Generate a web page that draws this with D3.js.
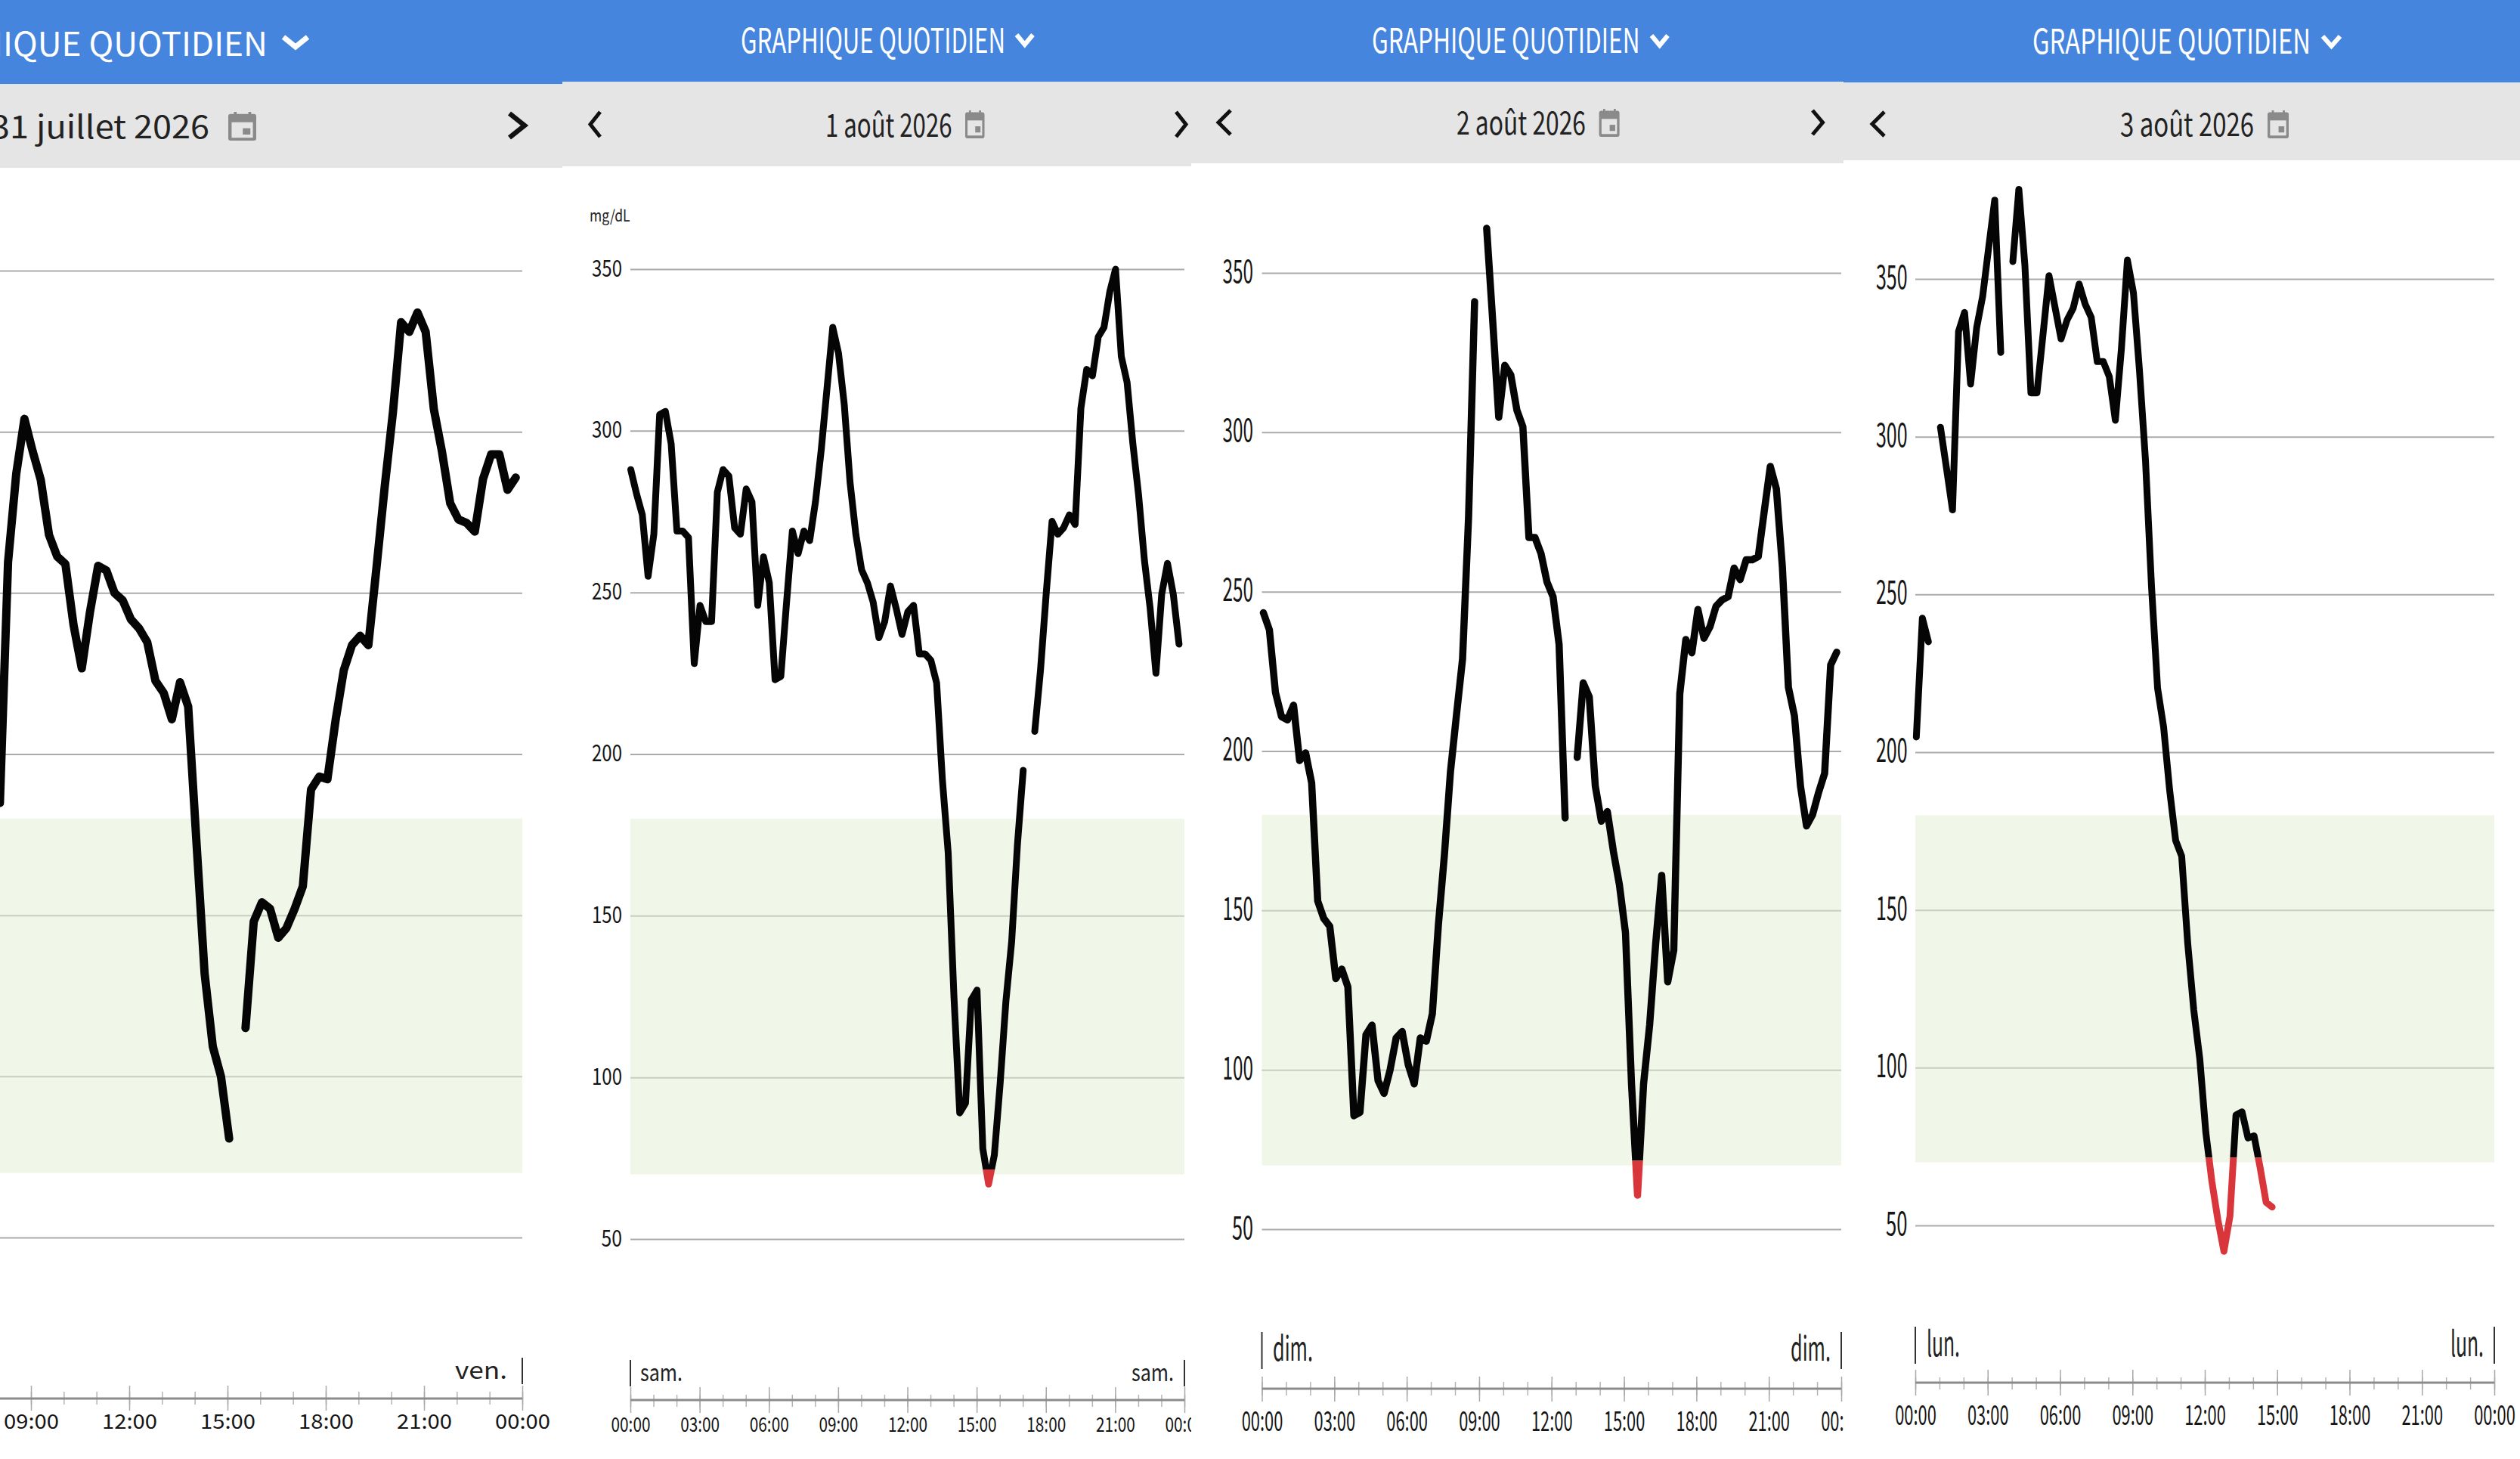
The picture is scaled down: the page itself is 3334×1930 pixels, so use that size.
<!DOCTYPE html>
<html><head><meta charset="utf-8">
<script src="https://cdn.jsdelivr.net/npm/d3@7"></script>
<style>html,body{margin:0;padding:0;background:#fff;overflow:hidden}svg{display:block}
text{font-family:"Noto Sans CJK JP","Noto Sans",sans-serif}</style></head><body>
<script>
// ---------- data ----------
const titleText = "GRAPHIQUE QUOTIDIEN";
const dateLabels = ["31 juillet 2026","1 août 2026","2 août 2026","3 août 2026"];
const dayLabels = ["ven.","sam.","dim.","lun."];
const yTicks = [50,100,150,200,250,300,350];
const xTickHours = [0,3,6,9,12,15,18,21,24];
const xTickLabels = ["00:00","03:00","06:00","09:00","12:00","15:00","18:00","21:00","00:00"];
const unitLabel = "mg/dL";
const rangeLow = 70, rangeHigh = 180, lowThreshold = 71.5;
// glucose readings, one per 15 minutes
const glucoseStep1 = 32; // first step visible in the cropped first day
const glucose1 = [184.8,259.6,287,304,294,285,268,261.3,259,240,226.6,244,258.4,257,250,247.7,241.8,239,234.7,222.7,219,210.8,222.3,214.7,173,132,109.3,100,80.7,null,115,148,154,152,143,146,152,159,189,193,192.2,210.5,226,233.8,236.7,233.8,258,283,306,334,331,337,331,307,293.7,277.8,272.8,271.7,269,285.3,293,293,282,285.8];
const glucose2 = [288,280.5,274,255,268,305,306,296,269,269,267,228,246,241,241,281,288,286,270,268,282,278,246,261,253,223,224,247,269,262,269,266,278,294,313,332,324,308,284,268,257,253,247,236,241,252,245,237,244,246,231,231,229,222,192,169.5,125,89,92,124,127,78,67,76,98,123.5,142,172,195,null,207,226,250,272,268,270,274,271,307,319,317,329,332,343,350,323,315,296,280,260,245,225,249.5,259,249.5,234];
const glucose3 = [243.4,238,218.4,210.8,209.8,214.4,197,199.4,190,153,147.5,145,128.6,131.6,126,85.6,86.6,111,114,96.6,92.6,100,110,112,101.6,95.6,110,109,117.6,145.5,167.5,193.5,211.4,228.8,273.3,341,null,364,335,304.7,321,318,307,301.7,267,267,262,253,248.4,233.4,179,null,198,221.4,217,189,178,181,168.5,158,143,95.6,60.7,95.6,114,139.5,161,127.6,137.5,218,235,230.8,244.4,235.4,239,245.4,247.4,248.4,257.4,253.8,260,260,261,275.3,289.3,282.3,257.7,220,211,189,176.5,180,187,193,227,231];
const glucose4 = [204.8,242.5,235,null,303,290,276.8,333.4,339.4,316.7,334.5,344.5,360,375,326.7,null,355.5,378.4,354.4,313.9,313.9,332.3,351,341,331,337,340.7,348.4,342,337.8,323.8,323.8,319,305.2,327.8,356,345.6,321,292.4,252.4,220.3,208,188,172,167,139.4,118.3,102.8,79.5,64,51.8,41.8,52.9,85,86,77.7,78.4,68.4,57.3,55.8];
const glucoseSeries = [glucose1,glucose2,glucose3,glucose4];
const glucoseFirstStep = [glucoseStep1,0,0,0];

// ---------- layout (pixels) ----------
const W=3334,H=1930;
const panels=[
 {x0:0,x1:744,blueB:111,grayB:222,
  title:[-141,495,73.5,43],chev:[374,408,47,65],date:[-12,289,183,42],icon:[302,148,339,186],
  prev:null,next:[673,696,149,183],
  plot:[-349,691],y350:358,y50:1637,yLab:null,
  axisY:1850,maj:[1833,1866],min:[1841,1858],xLab:[73,1890,27],
  day:[69,1824,32],dayL:null,dayR:[602,671],dayTick:[1796,1831],sw:11},
 {x0:744,x1:1576,blueB:108,grayB:220,
  title:[980,350,70,45],chev:[1344,1367.5,44,62],date:[1092,167.5,180.5,42],icon:[1277,146,1302.5,183],
  prev:[779,795,147,182],next:[1555,1571,147,182],
  plot:[834,1567],y350:356,y50:1639,yLab:[823,40,27.5,9,31],
  axisY:1852,maj:[1835,1869],min:[1845,1861],xLab:[52,1894,27],
  day:[56,1827,32],dayL:[847,903],dayR:[1497,1553],dayTick:[1799,1834],sw:9},
 {x0:1576,x1:2439,blueB:108,grayB:216,
  title:[1815,354.5,70,45],chev:[2184,2207.5,45,63],date:[1927,171,178,42],icon:[2115.6,144,2142.6,181],
  prev:[1610,1629,145,179],next:[2397,2413.5,145,179],
  plot:[1669.5,2436],y350:361,y50:1626,yLab:[1658,40.5,28,12,42],
  axisY:1837,maj:[1821,1854],min:[1828,1846],xLab:[54.6,1893,36],
  day:[53,1800,45],dayL:[1684,1737],dayR:[2369,2422],dayTick:[1762,1811],sw:9.5},
 {x0:2439,x1:3334,blueB:109,grayB:212,
  title:[2689,368,71,45],chev:[3072,3097,46,64],date:[2805,177,180,42],icon:[3000,146,3028,183],
  prev:[2475,2494,147,181],next:null,
  plot:[2534,3300],y350:369,y50:1621,yLab:[2523.5,41.6,28.5,12.5,43],
  axisY:1829,maj:[1812,1846],min:[1822,1838],xLab:[54.6,1885,37],
  day:[44,1794,46],dayL:[2549,2593],dayR:[3242,3286],dayTick:[1755,1804],sw:9}
];
const stepOffsetMin=[3,1,3.7,2.5];

const svg=d3.select("body").append("svg").attr("width",W).attr("height",H).attr("viewBox",`0 0 ${W} ${H}`);
const defs=svg.append("defs");
svg.append("rect").attr("width",W).attr("height",H).attr("fill","#fff");

function fitText(g,str,x,width,baseline,size,fill){
  return g.append("text").attr("x",x).attr("y",baseline).attr("font-size",size).attr("fill",fill)
    .attr("textLength",width).attr("lengthAdjust","spacingAndGlyphs").text(str);
}
function chevron(g,pts,stroke,sw){
  g.append("path").attr("d",d3.line()(pts)).attr("fill","none").attr("stroke",stroke).attr("stroke-width",sw).attr("stroke-linejoin","miter");
}
function calendar(g,[x0,y0,x1,y1]){
  const w=x1-x0,h=y1-y0,c="#8a8a8a";
  g.append("rect").attr("x",x0).attr("y",y0+h*.07).attr("width",w).attr("height",h*.93).attr("rx",3).attr("fill",c);
  g.append("rect").attr("x",x0+w*.12).attr("y",y0+h*.36).attr("width",w*.76).attr("height",h*.54).attr("fill","#e5e5e5");
  g.append("rect").attr("x",x0+w*.52).attr("y",y0+h*.57).attr("width",w*.27).attr("height",h*.22).attr("fill",c);
  [.2,.72].forEach(f=>g.append("rect").attr("x",x0+w*f).attr("y",y0).attr("width",w*.1).attr("height",h*.12).attr("fill",c));
}

panels.forEach((p,i)=>{
  const clipId="panel"+i;
  defs.append("clipPath").attr("id",clipId).append("rect").attr("x",p.x0).attr("y",0).attr("width",p.x1-p.x0).attr("height",H);
  const g=svg.append("g").attr("clip-path",`url(#${clipId})`);

  // scales
  const x=d3.scaleLinear().domain([0,24]).range(p.plot);
  const y=d3.scaleLinear().domain([50,350]).range([p.y50,p.y350]);
  const left=Math.max(p.plot[0],p.x0), right=p.plot[1];

  // header
  g.append("rect").attr("x",p.x0).attr("y",0).attr("width",p.x1-p.x0).attr("height",p.blueB).attr("fill","#4585de");
  g.append("rect").attr("x",p.x0).attr("y",p.blueB).attr("width",p.x1-p.x0).attr("height",p.grayB-p.blueB).attr("fill","#e5e5e5");
  g.append("rect").attr("x",p.x0).attr("y",p.blueB).attr("width",p.x1-p.x0).attr("height",1.5).attr("fill","#dbe5f2");
  fitText(g,titleText,p.title[0],p.title[1],p.title[2],p.title[3],"#fff");
  const [cx0,cx1,cy0,cy1]=p.chev;
  chevron(g,[[cx0+1,cy0+2],[(cx0+cx1)/2,cy1-3],[cx1-1,cy0+2]],"#fff",i===0?7:6);
  fitText(g,dateLabels[i],p.date[0],p.date[1],p.date[2],p.date[3],"#222");
  calendar(g,p.icon);
  if(p.prev){const [a,b,c,d]=p.prev;chevron(g,[[b-1,c+1],[a+2,(c+d)/2],[b-1,d-1]],"#111",5);}
  if(p.next){const [a,b,c,d]=p.next;chevron(g,[[a+1,c+1],[b-2,(c+d)/2],[a+1,d-1]],"#111",i===0?6.5:5);}

  // y grid and labels
  const yG=g.append("g").attr("transform",`translate(${p.plot[0]},0)`)
    .call(d3.axisLeft(y).tickValues(yTicks).tickSize(-(p.plot[1]-p.plot[0])).tickFormat(d=>p.yLab?d:""));
  yG.select(".domain").remove();
  yG.selectAll(".tick line").attr("x1",left-p.plot[0]).attr("stroke","#ababab").attr("stroke-width",2);
  if(p.yLab){
    const [xr,w3,w2,dy,fs]=p.yLab;
    yG.selectAll(".tick text")
      .attr("font-family",null).attr("font-size",fs).attr("fill","#151515").attr("text-anchor","start")
      .attr("dy",null).attr("y",dy)
      .attr("x",d=>xr-p.plot[0]-(d>=100?w3:w2))
      .attr("textLength",d=>d>=100?w3:w2).attr("lengthAdjust","spacingAndGlyphs");
  }
  // target range band over the grid
  g.append("rect").attr("x",left).attr("width",right-left)
    .attr("y",y(rangeHigh)).attr("height",y(rangeLow)-y(rangeHigh)).attr("fill","rgb(226,237,211)").attr("fill-opacity",.52);

  if(i===1) fitText(g,unitLabel,780,53.6,292.5,21,"#222");

  // glucose line: black above the threshold, red below
  const step=15/60;
  const pts=glucoseSeries[i].map((v,k)=>({t:(glucoseFirstStep[i]+k)*step+stepOffsetMin[i]/60,v}));
  const line=d3.line().defined(d=>d.v!==null).x(d=>x(d.t)).y(d=>y(d.v));
  const yThr=y(lowThreshold);
  defs.append("clipPath").attr("id","hi"+i).append("rect").attr("x",p.x0).attr("y",0).attr("width",p.x1-p.x0).attr("height",yThr);
  defs.append("clipPath").attr("id","lo"+i).append("rect").attr("x",p.x0).attr("y",yThr).attr("width",p.x1-p.x0).attr("height",H-yThr);
  [["hi","#050505"],["lo","#d8363a"]].forEach(([c,col])=>{
    g.append("g").attr("clip-path",`url(#${c}${i})`).append("path").datum(pts).attr("d",line)
      .attr("fill","none").attr("stroke",col).attr("stroke-width",p.sw)
      .attr("stroke-linecap","round").attr("stroke-linejoin","round");
  });

  // time axis: minor hourly ticks, then major 3-hour ticks with labels
  const minor=g.append("g").attr("transform",`translate(0,${p.axisY})`)
    .call(d3.axisBottom(x).tickValues(d3.range(0,25)).tickFormat(""));
  minor.select(".domain").remove();
  minor.selectAll(".tick line").attr("y1",p.min[0]-p.axisY).attr("y2",p.min[1]-p.axisY).attr("stroke","#b4b4b4").attr("stroke-width",1.5);
  const major=g.append("g").attr("transform",`translate(0,${p.axisY})`)
    .call(d3.axisBottom(x).tickValues(xTickHours).tickFormat((d,k)=>xTickLabels[k]));
  major.select(".domain").remove();
  major.selectAll(".tick line").attr("y1",p.maj[0]-p.axisY).attr("y2",p.maj[1]-p.axisY).attr("stroke","#a8a8a8").attr("stroke-width",1.5);
  const [lw,lb,lf]=p.xLab;
  major.selectAll(".tick text").attr("font-family",null).attr("font-size",lf).attr("fill","#151515")
    .attr("text-anchor","start").attr("dy",null).attr("y",lb-p.axisY).attr("x",-lw/2)
    .attr("textLength",lw).attr("lengthAdjust","spacingAndGlyphs");
  g.append("line").attr("x1",left).attr("x2",right).attr("y1",p.axisY).attr("y2",p.axisY).attr("stroke","#8c8c8c").attr("stroke-width",3);

  // day markers
  const [dw,db,df]=p.day;
  if(p.dayL) fitText(g,dayLabels[i],p.dayL[0],dw,db,df,"#222");
  fitText(g,dayLabels[i],p.dayR[0],p.dayR[1]-p.dayR[0],db,df,"#222");
  const dayEdges=p.dayL?[0,24]:[24];
  g.selectAll(null).data(dayEdges).join("line").attr("x1",d=>x(d)).attr("x2",d=>x(d))
    .attr("y1",p.dayTick[0]).attr("y2",p.dayTick[1]).attr("stroke","#333").attr("stroke-width",2);
});
</script></body></html>
